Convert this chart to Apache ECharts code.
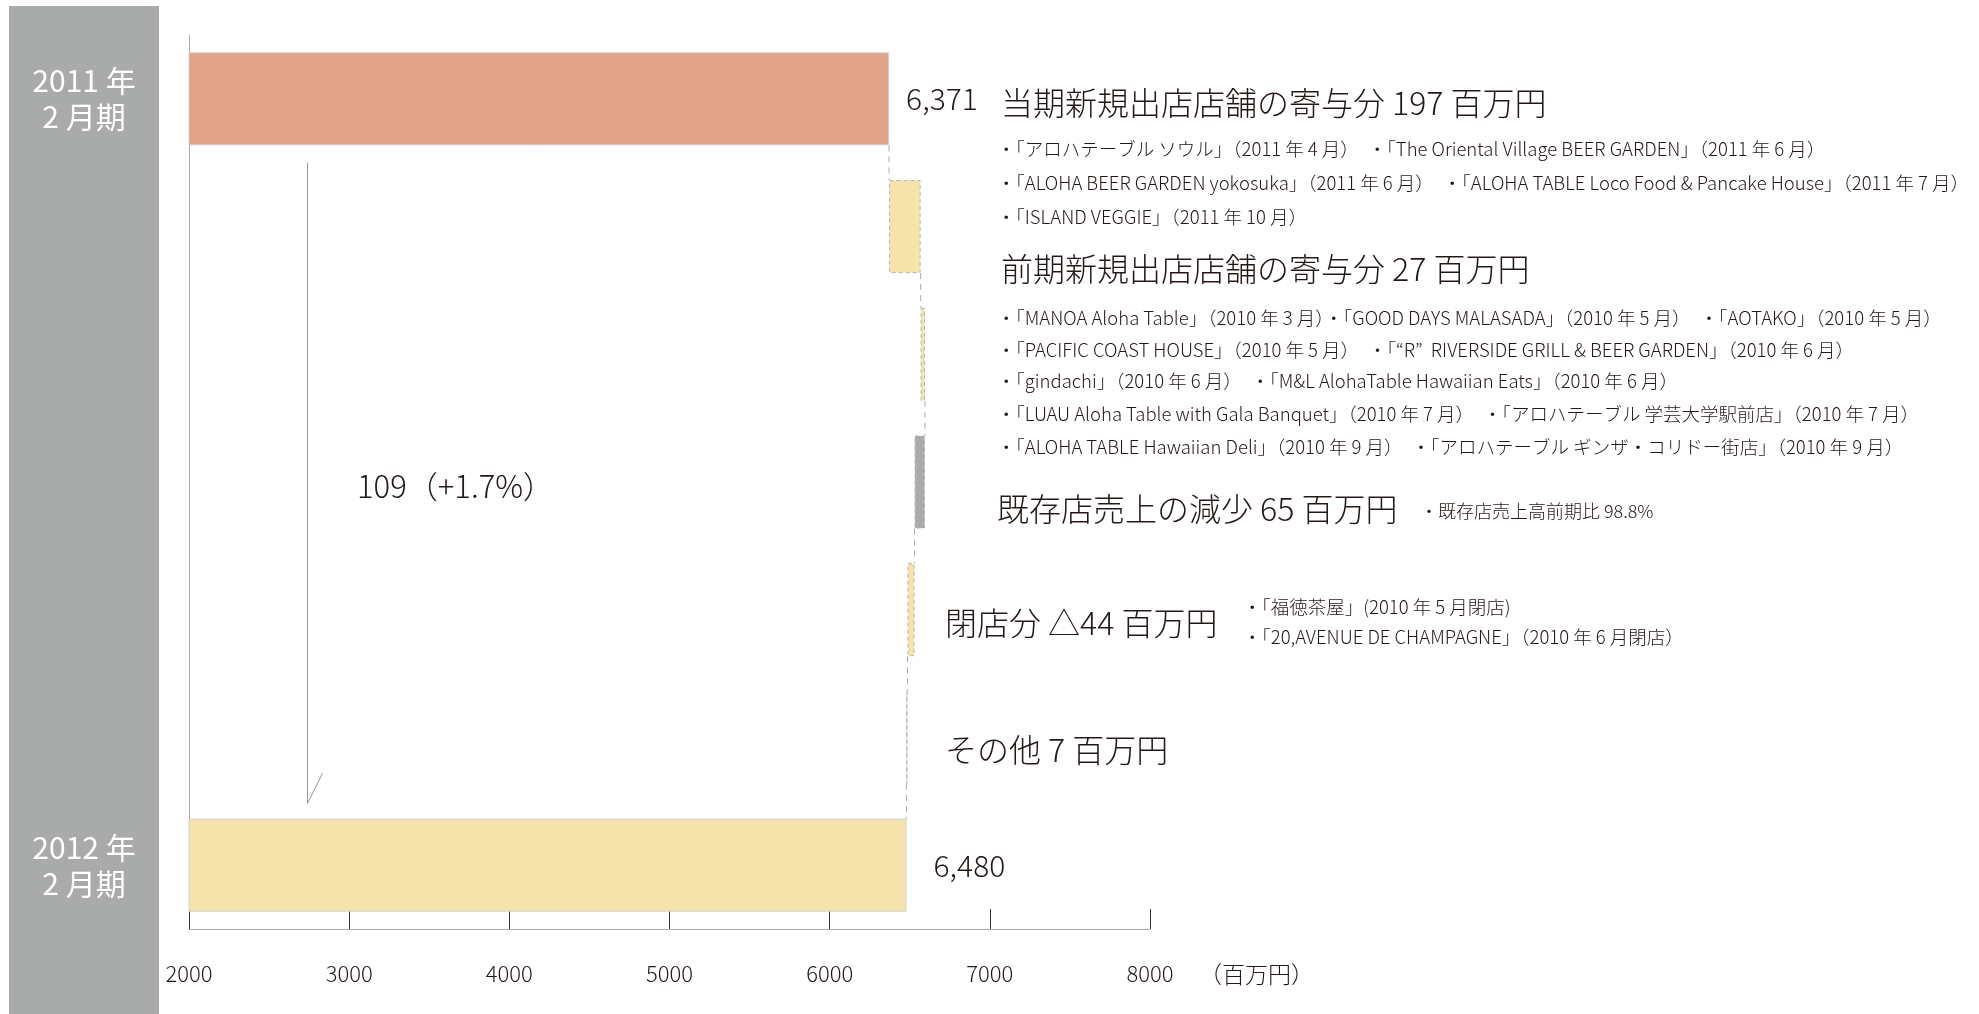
<!DOCTYPE html>
<html>
<head>
<meta charset="utf-8">
<title>売上高増減要因</title>
<script src="https://cdn.jsdelivr.net/npm/echarts@6/dist/echarts.min.js"></script>
<style>
  html, body { margin: 0; padding: 0; background: #fff; }
  #main { width: 1979px; height: 1014px; }
</style>
</head>
<body>
<div id="main"></div>
<script>
// 売上高の増減（百万円）
var categories = ['2011 年\n2 月期', '当期新規出店', '前期新規出店', '既存店', '閉店分', 'その他', '2012 年\n2 月期'];
var startValue = 6371;
var changes = [197, 27, -65, -44, -7];
var endValue = 6480;
var xTicks = [2000, 3000, 4000, 5000, 6000, 7000, 8000];
var barColors = ['#E1A387', '#F5E3AC', '#F5E3AC', '#ABABAB', '#F5E3AC', '#ABABAB', '#F5E3AC'];
var arrowX = 2740;

var FONT = "'Noto Sans CJK JP', sans-serif";
var WEIGHT = 300;
var INK = '#231815';

// 透明な土台 + 見える部分 で滝グラフを作る
var baseData = [0];
var valueData = [];
var levels = [startValue];   // 各バーの終点（次のバーへの接続線）
var cur = startValue;
for (var i = 0; i < changes.length; i++) {
  var next = cur + changes[i];
  baseData.push(Math.min(cur, next));
  levels.push(next);
  cur = next;
}
baseData.push(0);

var solidBorder = { borderColor: '#d0d0d0', borderWidth: 1 };
var dashBorder = { borderColor: '#b4b4b4', borderWidth: 1, borderType: [4, 3] };

valueData.push({
  value: startValue,
  itemStyle: Object.assign({ color: barColors[0] }, solidBorder),
  label: { show: true, position: 'right', distance: 17, fontSize: 30, fontFamily: FONT, fontWeight: WEIGHT, color: INK,
           formatter: startValue.toLocaleString('en-US') }
});
for (var j = 0; j < changes.length; j++) {
  valueData.push({
    value: Math.abs(changes[j]),
    itemStyle: Object.assign({ color: barColors[j + 1] }, dashBorder)
  });
}
valueData.push({
  value: endValue,
  itemStyle: Object.assign({ color: barColors[6] }, solidBorder),
  label: { show: true, position: 'right', distance: 27, fontSize: 30, fontFamily: FONT, fontWeight: WEIGHT, color: INK,
           formatter: endValue.toLocaleString('en-US') }
});

var connectorData = [];
for (var k = 0; k < levels.length; k++) {
  connectorData.push([levels[k], k]);
}

// y は文字の中心
function txt(x, y, s, size) {
  return {
    type: 'text', left: x, top: y - size / 2,
    style: { text: s, fontSize: size, fontFamily: FONT, fontWeight: WEIGHT, fill: INK }
  };
}

var myChart = echarts.init(document.getElementById('main'));
var option = {
  animation: false,
  backgroundColor: '#fff',
  grid: { left: 189, right: 829, top: 35, bottom: 85 },
  xAxis: {
    type: 'value',
    min: xTicks[0],
    max: xTicks[xTicks.length - 1],
    interval: 1000,
    splitLine: { show: false },
    axisLine: { show: true, lineStyle: { color: '#aaa', width: 1 } },
    axisTick: { show: true, inside: true, length: 20, lineStyle: { color: '#333' } },
    axisLabel: { margin: 34, fontSize: 22, fontFamily: FONT, fontWeight: WEIGHT, color: INK,
                 formatter: function (v) { return String(v); } }
  },
  yAxis: {
    type: 'category',
    inverse: true,
    data: categories,
    axisLine: { lineStyle: { color: '#aaa', width: 1 } },
    axisTick: { inside: true, length: 23, alignWithLabel: true, lineStyle: { color: '#555' } },
    axisLabel: {
      interval: 0,
      align: 'center',
      margin: 105,
      fontSize: 30,
      lineHeight: 36,
      fontFamily: FONT,
      color: '#fff',
      formatter: function (v, idx) {
        return (idx === 0 || idx === categories.length - 1) ? v : '';
      }
    }
  },
  graphic: [
    { type: 'rect', z: -10, shape: { x: 9, y: 6, width: 150, height: 1008 }, style: { fill: '#A9ABAA' } },
    txt(357, 486, '109（+1.7%）', 31),
    txt(1001, 103, '当期新規出店店舗の寄与分 197 百万円', 32),
    txt(997, 149, '・「アロハテーブル ソウル」（2011 年 4 月）　・「The Oriental Village BEER GARDEN」（2011 年 6 月）', 18.5),
    txt(997, 183, '・「ALOHA BEER GARDEN yokosuka」（2011 年 6 月）　・「ALOHA TABLE Loco Food & Pancake House」（2011 年 7 月）', 18.5),
    txt(997, 217, '・「ISLAND VEGGIE」（2011 年 10 月）', 18.5),
    txt(1001, 269, '前期新規出店店舗の寄与分 27 百万円', 32),
    txt(997, 318, '・「MANOA Aloha Table」（2010 年 3 月）・「GOOD DAYS MALASADA」（2010 年 5 月）　・「AOTAKO」（2010 年 5 月）', 18.5),
    txt(997, 350, '・「PACIFIC COAST HOUSE」（2010 年 5 月）　・「“R”  RIVERSIDE GRILL & BEER GARDEN」（2010 年 6 月）', 18.5),
    txt(997, 381, '・「gindachi」（2010 年 6 月）　・「M&L AlohaTable Hawaiian Eats」（2010 年 6 月）', 18.5),
    txt(997, 414, '・「LUAU Aloha Table with Gala Banquet」（2010 年 7 月）　・「アロハテーブル 学芸大学駅前店」（2010 年 7 月）', 18.5),
    txt(997, 447, '・「ALOHA TABLE Hawaiian Deli」（2010 年 9 月）　・「アロハテーブル ギンザ・コリドー街店」（2010 年 9 月）', 18.5),
    txt(997, 509, '既存店売上の減少 65 百万円', 32),
    txt(1420, 511, '・既存店売上高前期比 98.8%', 18),
    txt(945, 623, '閉店分 △44 百万円', 32),
    txt(1243, 607, '・「福徳茶屋」(2010 年 5 月閉店)', 18.5),
    txt(1243, 637, '・「20,AVENUE DE CHAMPAGNE」（2010 年 6 月閉店）', 18.5),
    txt(945, 750, 'その他 7 百万円', 32),
    txt(1199, 974, '（百万円）', 23)
  ],
  series: [
    {
      name: 'base',
      type: 'bar',
      stack: 'total',
      barWidth: 93,
      silent: true,
      itemStyle: { color: 'transparent' },
      data: baseData
    },
    {
      name: 'value',
      type: 'bar',
      stack: 'total',
      barWidth: 93,
      data: valueData
    },
    {
      // バー同士をつなぐ点線
      type: 'custom',
      silent: true,
      z: 3,
      encode: { x: 0, y: 1 },
      data: connectorData,
      renderItem: function (params, api) {
        var idx = api.value(1);
        if (idx >= categories.length - 1) return;
        var p1 = api.coord([api.value(0), idx]);
        var p2 = api.coord([api.value(0), idx + 1]);
        var half = 46.5;
        return {
          type: 'line',
          shape: { x1: p1[0], y1: p1[1] + half, x2: p2[0], y2: p2[1] - half },
          style: { stroke: '#aaa', lineWidth: 1, lineDash: [6, 5] }
        };
      }
    },
    {
      // 増減の矢印
      type: 'custom',
      silent: true,
      encode: { x: 0, y: 1 },
      data: [[arrowX, 0]],
      renderItem: function (params, api) {
        var top = api.coord([api.value(0), 0]);
        var bottom = api.coord([api.value(0), categories.length - 1]);
        var band = api.size([0, 1])[1];
        var y1 = top[1] + band / 2;
        var y2 = bottom[1] - band / 2 + 2;
        return {
          type: 'group',
          children: [
            { type: 'line', shape: { x1: top[0], y1: y1, x2: top[0], y2: y2 },
              style: { stroke: '#999', lineWidth: 1 } },
            { type: 'line', shape: { x1: top[0], y1: y2, x2: top[0] + 15, y2: y2 - 30 },
              style: { stroke: '#999', lineWidth: 1 } }
          ]
        };
      }
    }
  ]
};
myChart.setOption(option);
</script>
</body>
</html>
